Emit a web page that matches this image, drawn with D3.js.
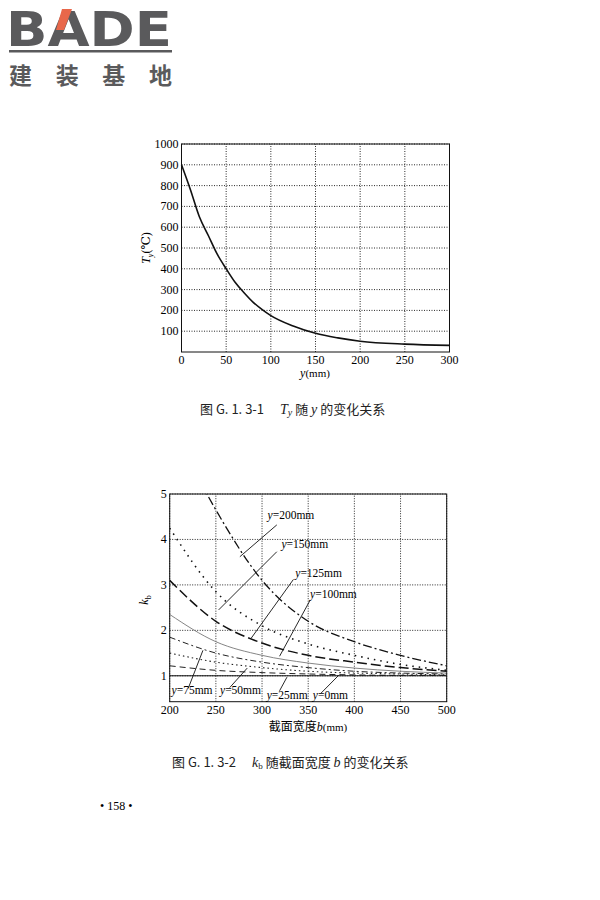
<!DOCTYPE html>
<html><head><meta charset="utf-8">
<script src="https://cdn.jsdelivr.net/npm/d3@7"></script>
<style>body{margin:0;background:#fff}svg{display:block}</style>
</head><body>
<svg id="c" width="600" height="900"></svg>
<script>
// ---- Chart 1 data ----
const c1Y = [0,10,20,30,40,50,60,70,80,90,100,125,150,175,200,250,300];
const c1T = [900,780,650,560,470,400,335,285,240,205,175,125,90,68,52,38,32];
const c1XTicks = [0,50,100,150,200,250,300];
const c1YTicks = [100,200,300,400,500,600,700,800,900,1000];
// ---- Chart 2 data ----
const c2B = [200,250,300,350,400,450,500];
const seriesNames = ["y=200mm","y=150mm","y=125mm","y=100mm","y=75mm","y=50mm","y=25mm","y=0mm"];
const k200 = [6.6,4.65,3.1,2.2,1.75,1.45,1.22];
const k150 = [4.25,2.85,2.1,1.7,1.45,1.25,1.12];
const k125 = [3.1,2.2,1.72,1.45,1.3,1.18,1.1];
const k100 = [2.35,1.75,1.45,1.28,1.17,1.1,1.06];
const k75 = [1.85,1.5,1.3,1.18,1.1,1.06,1.04];
const k50 = [1.5,1.3,1.18,1.1,1.06,1.04,1.02];
const k25 = [1.22,1.12,1.07,1.04,1.02,1.01,1.01];
const k0 = [1,1,1,1,1,1,1];
const c2XTicks = [200,250,300,350,400,450,500];
const c2YTicks = [1,2,3,4,5];
// label: [text x(b), text y(k), leader x1,y1,x2,y2]
const labelPos = [
 [306,4.45,316,4.32,276,3.62],
 [321,3.81,316,3.73,253,2.45],
 [336,3.18,334,3.12,288,1.82],
 [352,2.72,352,2.66,319,1.43],
 [202,0.61,220,0.72,236,1.56],
 [254.5,0.61,265,0.74,284,1.17],
 [305,0.5,319,0.67,327,0.97],
 [355,0.5,363.5,0.61,383,1.01]
];

const svg = d3.select("#c");
const serif = "'Liberation Serif','DejaVu Serif',serif";
const cjk = "'Noto Sans CJK SC',sans-serif";

// ---- Logo ----
svg.append("text").attr("x",6).attr("y",46).attr("font-family","'DejaVu Sans',sans-serif")
  .attr("font-weight","bold").attr("font-size",48).attr("fill","#5a5a5c").attr("textLength",166)
  .attr("lengthAdjust","spacingAndGlyphs").text("BADE");
svg.append("polygon").attr("points","62,9 72,9 64,30 56,30").attr("fill","#e8674a");
svg.append("rect").attr("x",9).attr("y",50).attr("width",163).attr("height",2.5).attr("fill","#5a5a5c");
svg.append("text").attr("x",9).attr("y",84).attr("font-family",cjk).attr("font-weight","bold")
  .attr("font-size",23).attr("fill","#5a5a5c").attr("textLength",163).attr("lengthAdjust","spacing").text("建装基地");

function frame(g, x, y, xt, yt){
  const [x0,x1]=x.range(), [y0,y1]=y.range();
  g.selectAll(".vg").data(xt).join("line").attr("x1",d=>x(d)).attr("x2",d=>x(d)).attr("y1",y0).attr("y2",y1)
    .attr("stroke","#111").attr("stroke-width",0.9).attr("stroke-dasharray","1,1.5");
  g.selectAll(".hg").data(yt).join("line").attr("y1",d=>y(d)).attr("y2",d=>y(d)).attr("x1",x0).attr("x2",x1)
    .attr("stroke","#111").attr("stroke-width",0.9).attr("stroke-dasharray","1,1.5");
  g.append("rect").attr("x",x0).attr("y",y1).attr("width",x1-x0).attr("height",y0-y1)
    .attr("fill","none").attr("stroke","#111").attr("stroke-width",1);
  g.selectAll(".xl").data(xt).join("text").attr("x",d=>x(d)).attr("y",y0+12).attr("text-anchor","middle")
    .attr("font-family",serif).attr("font-size",12).text(d=>d);
  g.selectAll(".yl").data(yt).join("text").attr("x",x0-3).attr("y",d=>y(d)+4).attr("text-anchor","end")
    .attr("font-family",serif).attr("font-size",12).text(d=>d);
}

// ---- Chart 1 ----
{
  const x = d3.scaleLinear().domain([0,300]).range([181.5,449.5]);
  const y = d3.scaleLinear().domain([0,1000]).range([352,144]);
  const g = svg.append("g");
  frame(g,x,y,c1XTicks,c1YTicks);
  g.append("path").datum(c1Y.map((v,i)=>[v,c1T[i]])).attr("fill","none").attr("stroke","#111").attr("stroke-width",1.6)
    .attr("d",d3.line().x(d=>x(d[0])).y(d=>y(d[1])).curve(d3.curveMonotoneX));
  const xl=g.append("text").attr("x",315).attr("y",377).attr("text-anchor","middle").attr("font-family",serif).attr("font-size",12);
  xl.append("tspan").attr("font-style","italic").text("y");xl.append("tspan").attr("font-size",11).text("(mm)");
  const yl=g.append("text").attr("transform","translate(150,248) rotate(-90)").attr("text-anchor","middle").attr("font-family",serif).attr("font-size",12);
  yl.append("tspan").attr("font-style","italic").text("T");yl.append("tspan").attr("font-size",8).attr("dy",3).attr("font-style","italic").text("y");
  yl.append("tspan").attr("dy",-3).text("(℃)");
  const cap=g.append("text").attr("x",200).attr("y",414).attr("font-family",cjk).attr("font-size",13).attr("fill","#222");
  cap.append("tspan").text("图 G. 1. 3-1　 ");
  cap.append("tspan").attr("font-family",serif).attr("font-style","italic").attr("font-size",14).text("T");
  cap.append("tspan").attr("font-family",serif).attr("font-style","italic").attr("font-size",10).attr("dy",2).text("y");
  cap.append("tspan").attr("dy",-2).text(" 随 ");
  cap.append("tspan").attr("font-family",serif).attr("font-style","italic").attr("font-size",14).text("y");
  cap.append("tspan").text(" 的变化关系");
}

// ---- Chart 2 ----
{
  const x = d3.scaleLinear().domain([200,500]).range([169.7,446.7]);
  const y = d3.scaleLinear().domain([0.43,5]).range([701.7,494]);
  const g = svg.append("g");
  frame(g,x,y,c2XTicks,c2YTicks);
  const data=[k200,k150,k125,k100,k75,k50,k25,k0];
  const styles=[
    {d:"9,3,2,3",w:1.3,c:"#111"},{d:"1.5,5",w:1.6,c:"#111"},{d:"10,4",w:1.5,c:"#111"},
    {d:null,w:0.9,c:"#777"},{d:"6,3,2,3",w:1,c:"#222"},{d:"1.5,3",w:1.1,c:"#222"},
    {d:"6,4",w:1,c:"#222"},{d:null,w:1,c:"#111"}];
  g.append("clipPath").attr("id","cp2").append("rect").attr("x",169.7).attr("y",494).attr("width",277).attr("height",207.7);
  data.forEach((arr,i)=>{
    g.append("path").datum(c2B.map((b,j)=>[b,arr[j]])).attr("clip-path","url(#cp2)").attr("fill","none")
     .attr("stroke",styles[i].c).attr("stroke-width",styles[i].w).attr("stroke-dasharray",styles[i].d)
     .attr("d",d3.line().x(d=>x(d[0])).y(d=>y(d[1])).curve(d3.curveMonotoneX));
  });
  labelPos.forEach((p,i)=>{
    g.append("line").attr("x1",x(p[2])).attr("y1",y(p[3])).attr("x2",x(p[4])).attr("y2",y(p[5])).attr("stroke","#111").attr("stroke-width",0.9);
    const t=g.append("text").attr("x",x(p[0])).attr("y",y(p[1])).attr("font-family",serif).attr("font-size",11.5);
    t.append("tspan").attr("font-style","italic").text("y");
    t.append("tspan").text(seriesNames[i].slice(1));
  });
  const xl=g.append("text").attr("x",308).attr("y",731).attr("text-anchor","middle").attr("font-size",12);
  xl.append("tspan").attr("font-family",cjk).text("截面宽度");
  xl.append("tspan").attr("font-family",serif).attr("font-style","italic").text("b");
  xl.append("tspan").attr("font-family",serif).attr("font-size",11).text("(mm)");
  const yl=g.append("text").attr("transform","translate(148,600) rotate(-90)").attr("text-anchor","middle").attr("font-family",serif).attr("font-size",12);
  yl.append("tspan").attr("font-style","italic").text("k");yl.append("tspan").attr("font-size",8).attr("dy",3).text("b");
  const cap=g.append("text").attr("x",172).attr("y",767).attr("font-family",cjk).attr("font-size",13).attr("fill","#222");
  cap.append("tspan").text("图 G. 1. 3-2　 ");
  cap.append("tspan").attr("font-family",serif).attr("font-style","italic").attr("font-size",14).text("k");
  cap.append("tspan").attr("font-family",serif).attr("font-size",9).attr("dy",2).text("b");
  cap.append("tspan").attr("dy",-2).text(" 随截面宽度 ");
  cap.append("tspan").attr("font-family",serif).attr("font-style","italic").attr("font-size",14).text("b");
  cap.append("tspan").text(" 的变化关系");
}
svg.append("text").attr("x",100).attr("y",810).attr("font-family",serif).attr("font-size",12).text("• 158 •");
</script>
</body></html>
